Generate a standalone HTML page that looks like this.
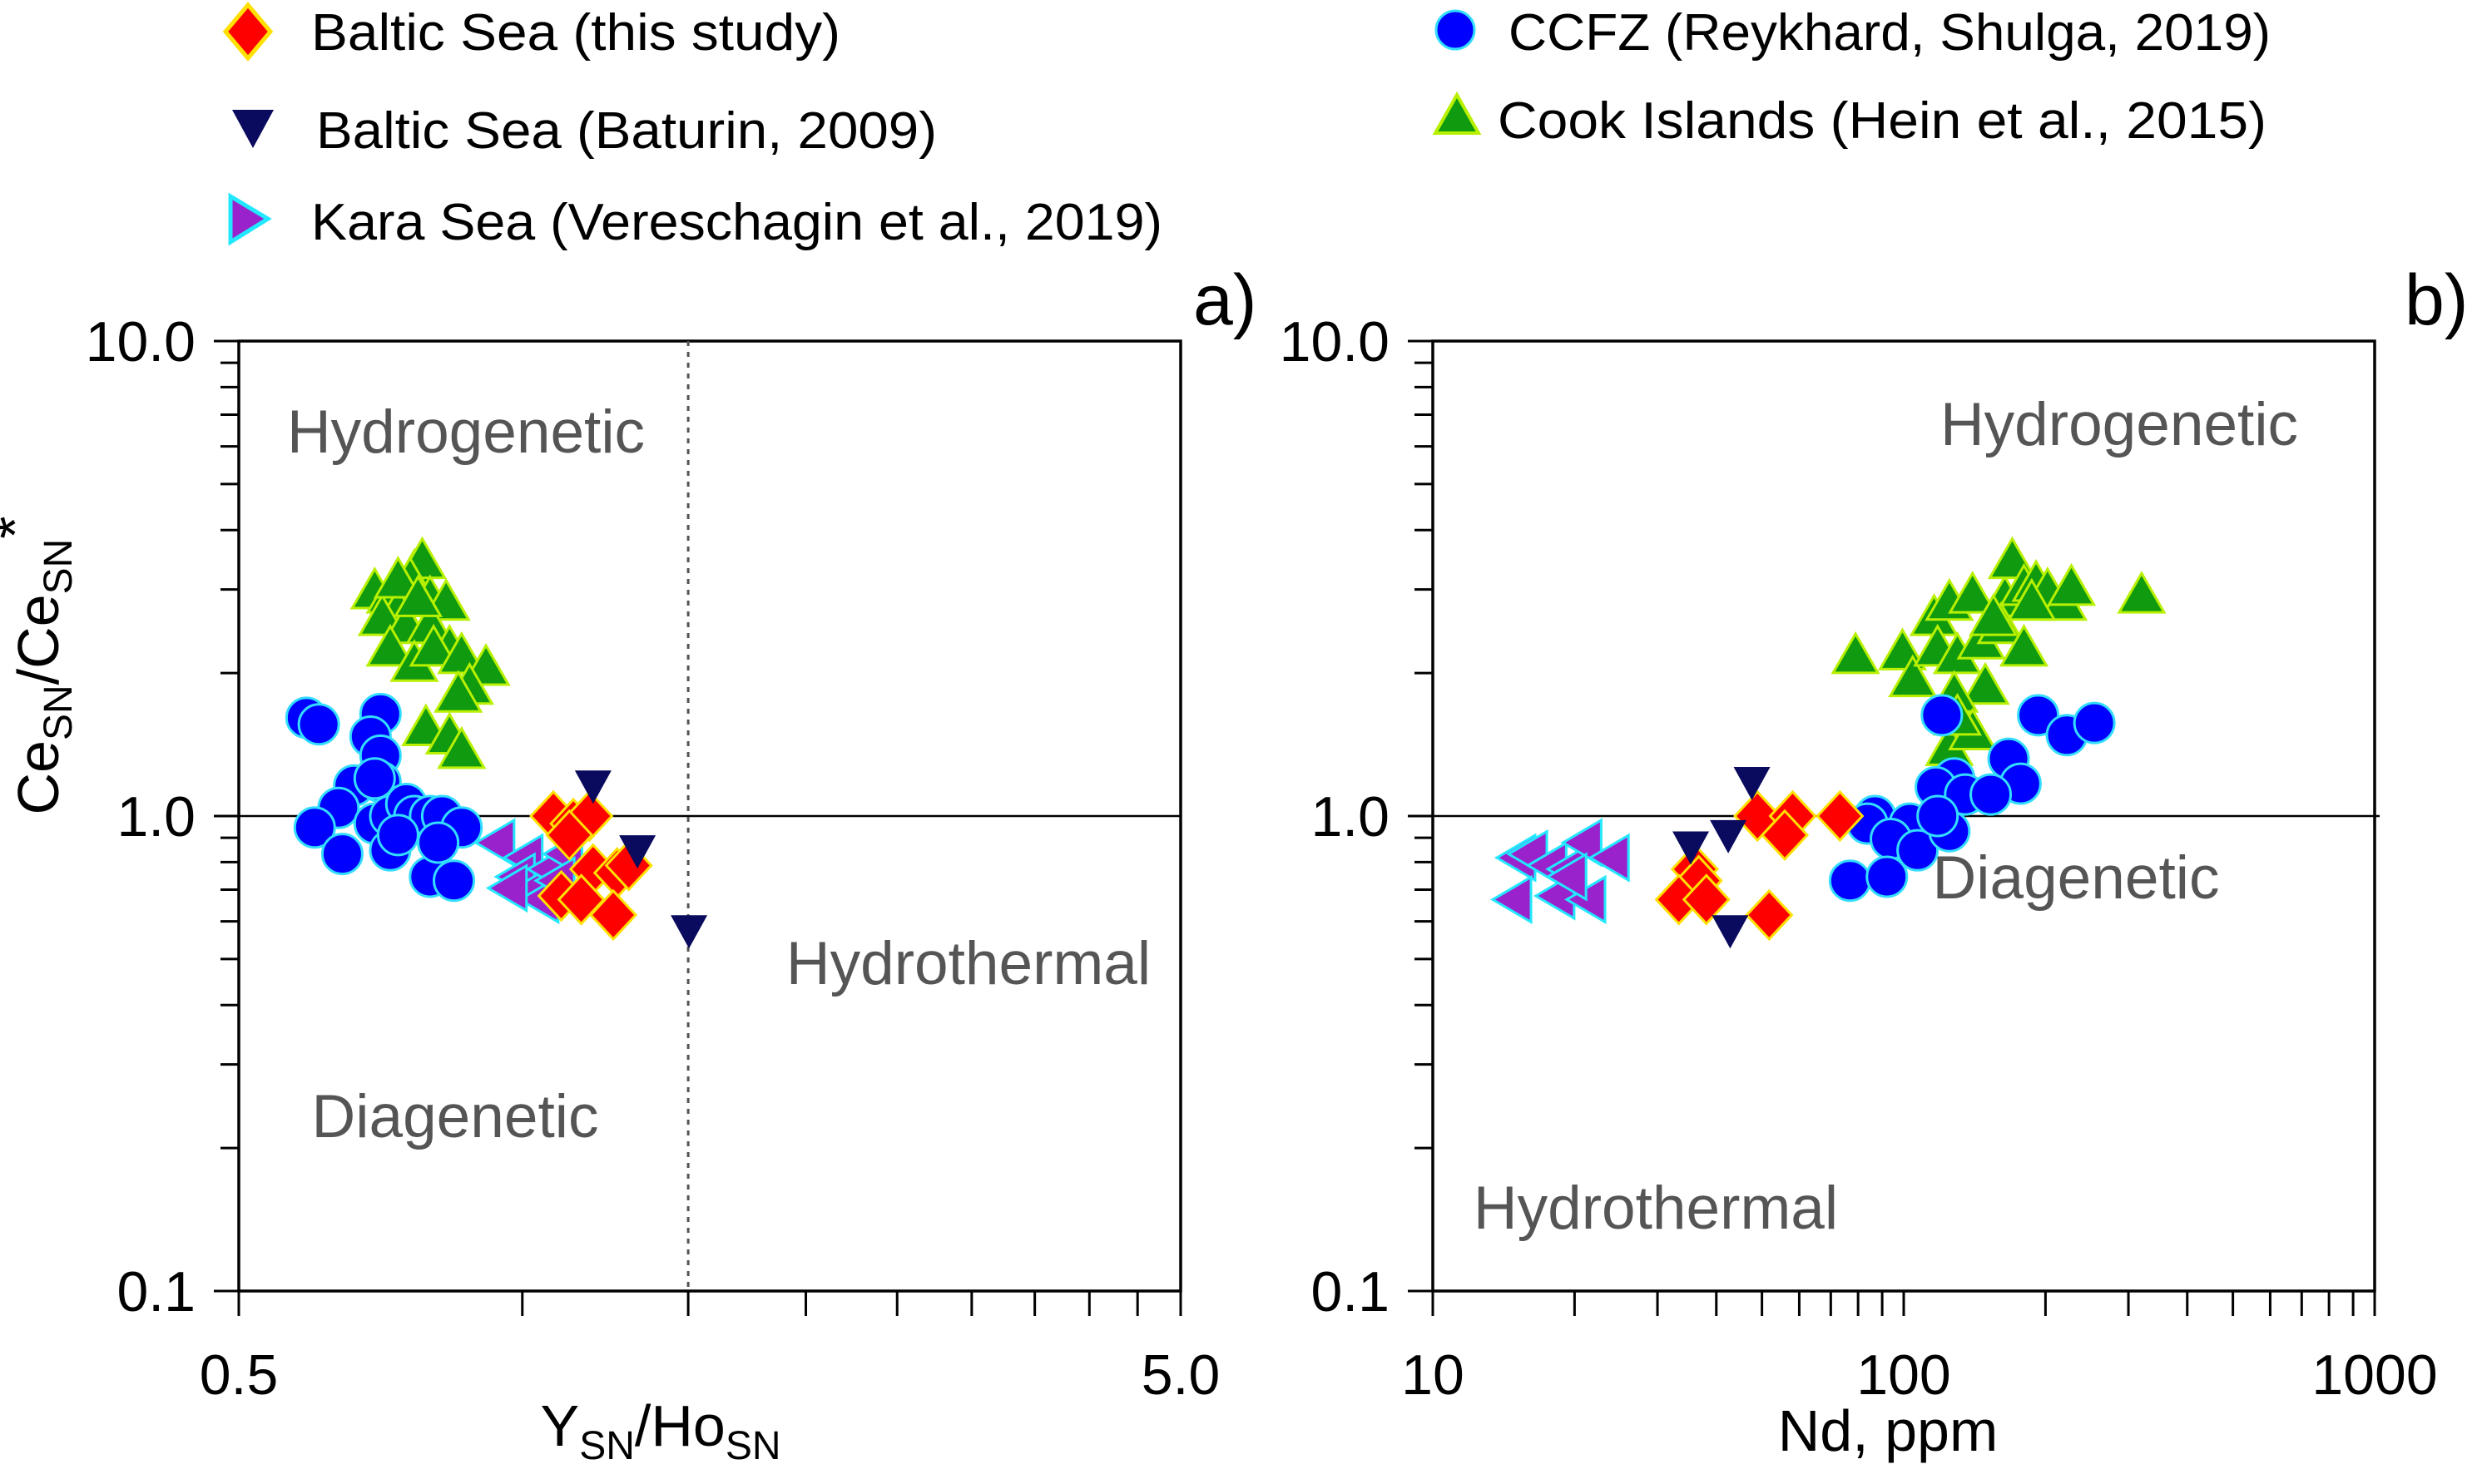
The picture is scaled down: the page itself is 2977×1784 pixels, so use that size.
<!DOCTYPE html>
<html><head><meta charset="utf-8"><style>
html,body{margin:0;padding:0;background:#fff;}
svg{display:block;font-family:"Liberation Sans",sans-serif;}
</style></head><body>
<svg id="chart" width="2977" height="1784" viewBox="0 0 2977 1784" xmlns="http://www.w3.org/2000/svg">
<g id="legend" font-size="62">
 <g><polygon points="298,6 325,38 298,70 271,38" fill="#ff0000" stroke="#ffe000" stroke-width="5"/><text x="374" y="60" textLength="636" lengthAdjust="spacingAndGlyphs">Baltic Sea (this study)</text></g>
 <g><polygon points="279,132 329,132 304,178" fill="#0a0a5e"/><text x="380" y="178" textLength="746" lengthAdjust="spacingAndGlyphs">Baltic Sea (Baturin, 2009)</text></g>
 <g><polygon points="277,236 322,263 277,291" fill="#9a22cc" stroke="#22e8ff" stroke-width="5"/><text x="374" y="288" textLength="1023" lengthAdjust="spacingAndGlyphs">Kara Sea (Vereschagin et al., 2019)</text></g>
 <g><circle cx="1749" cy="36" r="23" fill="#0000ff" stroke="#33ddff" stroke-width="3"/><text x="1813" y="60" textLength="916" lengthAdjust="spacingAndGlyphs">CCFZ (Reykhard, Shulga, 2019)</text></g>
 <g><polygon points="1751,114 1777,160 1725,160" fill="#109a10" stroke="#b8f000" stroke-width="4"/><text x="1800" y="166" textLength="924" lengthAdjust="spacingAndGlyphs">Cook Islands (Hein et al., 2015)</text></g>
</g>
<text x="1434" y="390" font-size="86">a)</text>
<text x="2890" y="390" font-size="86">b)</text>
<g id="pa"></g>
<g id="pb"></g>
</svg>
<script>
// ---- Panel a data: Y_SN/Ho_SN vs Ce_SN/Ce_SN* ----
const aGreenX=[0.697,0.724,0.768,0.783,0.760,0.738,0.798,0.830,0.710,0.753,0.798,0.837,0.724,0.768,0.805,0.862,0.915,0.879,0.855,0.790,0.837,0.862,0.738,0.775];
const aGreenY=[2.97,2.91,3.25,3.44,3.13,2.70,2.86,2.81,2.61,2.51,2.51,2.25,2.25,2.09,2.25,2.17,2.05,1.87,1.80,1.53,1.47,1.37,3.13,2.86];
const aBlueX=[0.590,0.608,0.707,0.690,0.707,0.663,0.707,0.697,0.638,0.602,0.644,0.697,0.724,0.753,0.768,0.798,0.822,0.862,0.724,0.798,0.846,0.814,0.738];
const aBlueY=[1.61,1.56,1.64,1.47,1.34,1.16,1.18,1.20,1.04,0.946,0.832,0.964,1.0,1.06,1.0,1.0,1.0,0.946,0.847,0.745,0.731,0.879,0.912];
const aPurpleX=[0.941,1.008,0.989,1.018,1.069,1.111,1.048,1.090,0.970];
const aPurpleY=[0.879,0.817,0.745,0.692,0.773,0.832,0.667,0.731,0.705];
const aRedX=[1.079,1.133,1.178,1.122,1.189,1.261,1.100,1.155,1.249,1.297];
const aRedY=[1.0,0.964,1.0,0.912,0.773,0.759,0.679,0.667,0.619,0.787];
const aNavyX=[1.189,1.325,1.503];
const aNavyY=[1.16,0.847,0.575];
const aXTicks=[0.5,1,1.5,2,2.5,3,3.5,4,4.5,5];
const aXLabels=["0.5","5.0"];
const yTickLabels=["0.1","1.0","10.0"];
// ---- Panel b data: Nd ppm vs Ce_SN/Ce_SN* ----
const bGreenX=[79,99.4,104.5,116,125,140,118,130,146,149,164,170,180,191,202,218,227,320,161,180,128,125,140,130,155,187];
const bGreenY=[2.17,2.21,1.94,2.61,2.81,2.91,2.25,2.17,2.33,1.87,2.86,3.44,3.02,3.08,2.97,2.81,3.02,2.91,2.51,2.25,1.80,1.39,1.50,1.61,2.61,2.81];
const bBlueX=[120.5,193,222,254,167,177,128,117,135,153,86.9,83.7,103,93.9,107,125,118,76.9,92.1];
const bBlueY=[1.63,1.63,1.48,1.57,1.32,1.17,1.20,1.15,1.11,1.11,1.0,0.964,0.964,0.895,0.847,0.929,1.0,0.731,0.745];
const bRedX=[48.9,58.1,55.9,73.2,36.0,36.7,33.3,38.1,51.8];
const bRedY=[1.0,1.0,0.912,1.0,0.773,0.731,0.667,0.667,0.619];
const bNavyX=[47.6,35.3,42.4,42.8];
const bNavyY=[1.18,0.863,0.912,0.575];
const bPurpleX=[15.2,16.1,17.7,19.5,21.0,24.0,14.9,18.4,21.4,19.5];
const bPurpleY=[0.817,0.832,0.787,0.773,0.879,0.817,0.667,0.679,0.667,0.745];
const bXTicks=[10,20,30,40,50,60,70,80,90,100,200,300,400,500,600,700,800,900,1000];
const bXLabels=["10","100","1000"];

const NS="http://www.w3.org/2000/svg";
function mk(parent,tag,attrs){const e=document.createElementNS(NS,tag);for(const k in attrs)e.setAttribute(k,attrs[k]);parent.appendChild(e);return e;}
const T=410,B=1552;
function yS(v){return B-(Math.log10(v)+1)/2*(B-T);}
function logX(L,R,min,max){return v=>L+(Math.log10(v/min))/Math.log10(max/min)*(R-L);}

function marker(g,type,x,y){
  let e;
  if(type==='circle'){e=mk(g,'circle',{cx:x,cy:y,r:24,fill:'#0000ff',stroke:'#33ddff','stroke-width':3});}
  else if(type==='tri'){e=mk(g,'polygon',{points:`${x},${y-27} ${x+27},${y+20} ${x-27},${y+20}`,fill:'#109a10',stroke:'#b8f000','stroke-width':3});}
  else if(type==='diamond'){e=mk(g,'polygon',{points:`${x},${y-29} ${x+27},${y} ${x},${y+29} ${x-27},${y}`,fill:'#ff0000',stroke:'#ffe000','stroke-width':3});}
  else if(type==='down'){e=mk(g,'polygon',{points:`${x-22},${y-18} ${x+22},${y-18} ${x},${y+22}`,fill:'#0a0a5e'});}
  else if(type==='left'){e=mk(g,'polygon',{points:`${x-26},${y} ${x+20},${y-27} ${x+20},${y+27}`,fill:'#9a22cc',stroke:'#22e8ff','stroke-width':3});}
  
  
}
function series(g,name,type,xs,ys,xS){
  const sg=mk(g,'g',{});
  
  
  xs.forEach((v,i)=>marker(sg,type,xS(v),yS(ys[i])));
}
function axes(g,L,R,xS,xTicks,xLabelVals,xLabels){
  const yt=[];for(let d=0.1;d<9;d*=10){for(let k=1;k<=9;k++)yt.push(+(d*k).toFixed(3));}yt.push(10);
  yt.forEach(v=>{const y=yS(v);const major=(v===0.1||v===1||v===10);
    const t=mk(g,'line',{x1:L-(major?30:22),x2:L,y1:y,y2:y,stroke:'#000','stroke-width':3});
    });
  [0.1,1,10].forEach((v,i)=>{const t=mk(g,'text',{x:L-52,y:yS(v)+24,'font-size':68,'text-anchor':'end'});t.textContent=yTickLabels[i];
    });
  xTicks.forEach(v=>{const x=xS(v);const t=mk(g,'line',{x1:x,x2:x,y1:B,y2:B+30,stroke:'#000','stroke-width':3});
    });
  xLabelVals.forEach((v,i)=>{const t=mk(g,'text',{x:xS(v),y:B+124,'font-size':68,'text-anchor':'middle'});t.textContent=xLabels[i];
    });
}
function frame(g,L,R){const f=mk(g,'rect',{x:L,y:T,width:R-L,height:B-T,fill:'none',stroke:'#000','stroke-width':3.5});
  }
function label(g,name,x,y,txt){const t=mk(g,'text',{x:x,y:y,'font-size':73,fill:'#555','text-anchor':'middle'});t.textContent=txt;
  }

// Panel a
(function(){
  const g=document.getElementById('pa');const L=287,R=1419;const xS=logX(L,R,0.5,5);
  frame(g,L,R);
  const h=mk(g,'line',{x1:L,x2:R,y1:yS(1),y2:yS(1),stroke:'#000','stroke-width':2.5});
  
  const d=mk(g,'line',{x1:xS(1.5),x2:xS(1.5),y1:T,y2:B,stroke:'#555','stroke-width':3,'stroke-dasharray':'6,7'});
  
  axes(g,L,R,xS,aXTicks,[0.5,5],aXLabels);
  label(g,'region-label-hydrogenetic',560,544,'Hydrogenetic');
  label(g,'region-label-hydrothermal',1164,1183,'Hydrothermal');
  label(g,'region-label-diagenetic',547,1367,'Diagenetic');
  series(g,'series-cook-islands','tri',aGreenX,aGreenY,xS);
  series(g,'series-ccfz','circle',aBlueX,aBlueY,xS);
  series(g,'series-kara-sea','left',aPurpleX,aPurpleY,xS);
  series(g,'series-baltic-this-study','diamond',aRedX,aRedY,xS);
  series(g,'series-baltic-baturin','down',aNavyX,aNavyY,xS);
  const t=mk(g,'text',{x:794,y:1738,'font-size':70,'text-anchor':'middle'});
  t.innerHTML='Y<tspan font-size="48" dy="16">SN</tspan><tspan dy="-16">/Ho</tspan><tspan font-size="48" dy="16">SN</tspan>';
  
  const yt=mk(g,'text',{x:0,y:0,'font-size':70,'text-anchor':'middle',transform:'translate(70,800) rotate(-90)'});
  yt.innerHTML='Ce<tspan font-size="48" dy="16">SN</tspan><tspan dy="-16">/Ce</tspan><tspan font-size="48" dy="16">SN</tspan><tspan dy="-44">*</tspan>';
  
})();
// Panel b
(function(){
  const g=document.getElementById('pb');const L=1722,R=2854;const xS=logX(L,R,10,1000);
  frame(g,L,R);
  const h=mk(g,'line',{x1:L,x2:R+6,y1:yS(1),y2:yS(1),stroke:'#000','stroke-width':2.5});
  
  axes(g,L,R,xS,bXTicks,[10,100,1000],bXLabels);
  label(g,'region-label-hydrogenetic',2547,535,'Hydrogenetic');
  label(g,'region-label-diagenetic',2495,1080,'Diagenetic');
  label(g,'region-label-hydrothermal',1990,1477,'Hydrothermal');
  series(g,'series-cook-islands','tri',bGreenX,bGreenY,xS);
  series(g,'series-ccfz','circle',bBlueX,bBlueY,xS);
  series(g,'series-kara-sea','left',bPurpleX,bPurpleY,xS);
  series(g,'series-baltic-this-study','diamond',bRedX,bRedY,xS);
  series(g,'series-baltic-baturin','down',bNavyX,bNavyY,xS);
  const t=mk(g,'text',{x:2269,y:1744,'font-size':70,'text-anchor':'middle'});t.textContent='Nd, ppm';
  
})();
</script>
</body></html>
